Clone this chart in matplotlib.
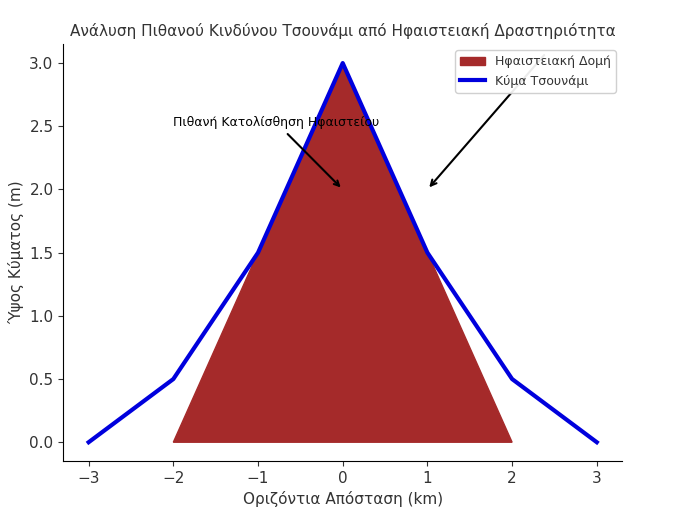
import matplotlib
matplotlib.use("Agg")
import matplotlib.pyplot as plt

# volcano cross-section
volcano_x = [-2, 0, 2]
volcano_y = [0, 3, 0]

# tsunami wave profile
wave_x = [-3, -2, -1, 0, 1, 2, 3]
wave_y = [0, 0.5, 1.5, 3, 1.5, 0.5, 0]

plt.rcParams['font.family'] = ['DejaVu Sans']
plt.rcParams['text.color'] = '#333333'
plt.rcParams['axes.labelcolor'] = '#333333'
plt.rcParams['xtick.color'] = '#333333'
plt.rcParams['ytick.color'] = '#333333'

fig, ax = plt.subplots(figsize=(6.8, 5.13), dpi=100)
fig.subplots_adjust(left=0.093, right=0.915, bottom=0.101, top=0.914)

ax.fill(volcano_x, volcano_y, color='#a52a2a', label='Ηφαιστειακή Δομή')
ax.plot(wave_x, wave_y, color='#0000dd', linewidth=3, label='Κύμα Τσουνάμι')

ax.annotate('Πιθανή Κατολίσθηση Ηφαιστείου', xy=(0, 2), xytext=(-2, 2.5),
            fontsize=9, color='black',
            arrowprops=dict(arrowstyle='->', color='black', lw=1.5))
# second arrow, its label is not visible in the chart
ax.annotate('', xy=(1, 2), xytext=(2.4, 3.08),
            arrowprops=dict(arrowstyle='->', color='black', lw=1.5))

ax.set_title('Ανάλυση Πιθανού Κινδύνου Τσουνάμι από Ηφαιστειακή Δραστηριότητα', fontsize=11)
ax.set_xlabel('Οριζόντια Απόσταση (km)', fontsize=11)
ax.set_ylabel('Ύψος Κύματος (m)', fontsize=11)
ax.tick_params(labelsize=11)
ax.spines['top'].set_visible(False)
ax.spines['right'].set_visible(False)
ax.legend(loc='upper right', fontsize=9, framealpha=0.92)

plt.savefig('out.png', dpi=100)
